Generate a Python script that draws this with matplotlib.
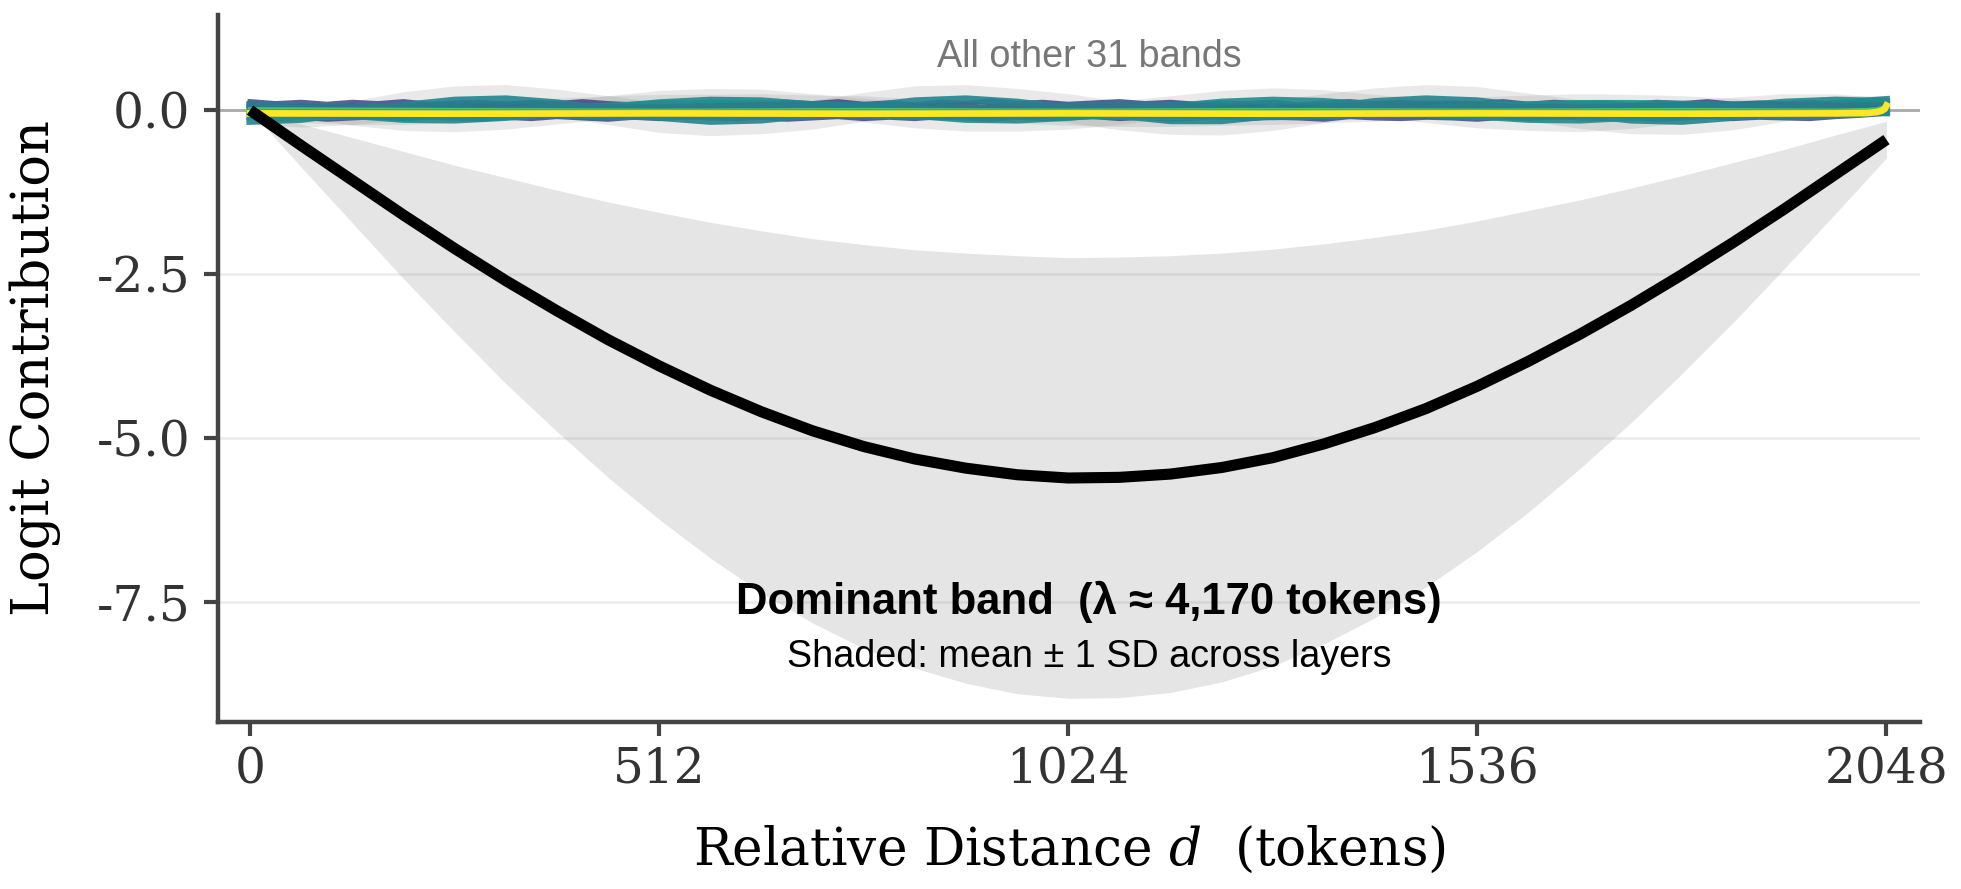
import numpy as np
import matplotlib
matplotlib.use("Agg")
import matplotlib.pyplot as plt

plt.rcParams['mathtext.fontset'] = 'dejavuserif'
plt.rcParams['axes.unicode_minus'] = False

# ---- data ----
d64 = np.arange(0, 2049, 64)     # 33 points
d32 = np.arange(0, 2049, 32)     # 65 points

# dominant band: mean and SD across layers
dom_mean = [0.0, -0.54, -1.07, -1.60, -2.11, -2.60, -3.06, -3.50, -3.90, -4.27, -4.60,
            -4.89, -5.13, -5.32, -5.46, -5.56, -5.61, -5.60, -5.55, -5.45, -5.30, -5.09,
            -4.84, -4.55, -4.21, -3.83, -3.42, -2.98, -2.51, -2.02, -1.51, -0.98, -0.45]
dom_sd = [0.0, 0.33, 0.65, 0.97, 1.27, 1.57, 1.84, 2.10, 2.34, 2.56, 2.76,
          2.93, 3.08, 3.19, 3.28, 3.34, 3.36, 3.36, 3.33, 3.27, 3.18, 3.05,
          2.90, 2.72, 2.52, 2.30, 2.05, 1.79, 1.51, 1.22, 0.91, 0.60, 0.28]

# other bands, slow (teal) ones, 64-token steps
teal_a = [-0.17, -0.14, -0.04, 0.07, 0.15, 0.17, 0.11, 0.00, -0.11, -0.17, -0.15,
          -0.07, 0.05, 0.14, 0.17, 0.12, 0.03, -0.08, -0.16, -0.16, -0.08, 0.03,
          0.13, 0.17, 0.14, 0.05, -0.06, -0.15, -0.17, -0.11, -0.01, 0.10, 0.16]
teal_b = [0.08, 0.00, -0.08, -0.14, -0.15, -0.11, -0.04, 0.04, 0.11, 0.15, 0.14,
          0.08, 0.00, -0.08, -0.14, -0.15, -0.11, -0.04, 0.05, 0.12, 0.15, 0.13,
          0.07, -0.01, -0.09, -0.14, -0.15, -0.11, -0.03, 0.05, 0.12, 0.15, 0.13]
teal_c = [-0.10, -0.10, -0.09, -0.07, -0.04, 0.00, 0.03, 0.06, 0.09, 0.10, 0.10,
          0.08, 0.06, 0.02, -0.01, -0.05, -0.08, -0.09, -0.10, -0.09, -0.07, -0.04,
          -0.01, 0.03, 0.06, 0.08, 0.10, 0.10, 0.09, 0.06, 0.03, -0.01, -0.04]
teal_d = [0.08, 0.06, 0.04, 0.05, 0.07, 0.08, 0.06, 0.04, 0.03, 0.05, 0.07,
          0.08, 0.07, 0.05, 0.03, 0.04, 0.06, 0.08, 0.07, 0.05, 0.04, 0.05,
          0.07, 0.08, 0.06, 0.04, 0.03, 0.05, 0.07, 0.08, 0.07, 0.06, 0.07]
teal_e = [-0.02, -0.06, -0.09, -0.10, -0.08, -0.06, -0.07, -0.09, -0.10, -0.09, -0.07,
          -0.06, -0.07, -0.09, -0.10, -0.09, -0.07, -0.06, -0.07, -0.09, -0.10, -0.08,
          -0.06, -0.07, -0.09, -0.10, -0.09, -0.07, -0.06, -0.07, -0.08, -0.07, -0.03]

sd_a = [0.04, 0.12, 0.18, 0.21, 0.22, 0.22, 0.21, 0.22, 0.23, 0.22, 0.21,
        0.22, 0.22, 0.23, 0.22, 0.21, 0.22, 0.22, 0.21, 0.22, 0.23, 0.22,
        0.21, 0.22, 0.22, 0.21, 0.22, 0.21, 0.20, 0.19, 0.16, 0.12, 0.06]
sd_b = [0.03, 0.10, 0.15, 0.17, 0.18, 0.18, 0.17, 0.18, 0.19, 0.18, 0.18,
        0.17, 0.18, 0.19, 0.18, 0.17, 0.18, 0.18, 0.17, 0.18, 0.19, 0.18,
        0.17, 0.18, 0.18, 0.17, 0.18, 0.17, 0.16, 0.15, 0.13, 0.10, 0.05]
sd_c = [0.03, 0.09, 0.13, 0.15, 0.15, 0.14, 0.15, 0.16, 0.15, 0.14, 0.15,
        0.15, 0.16, 0.15, 0.14, 0.15, 0.15, 0.16, 0.15, 0.14, 0.15, 0.15,
        0.16, 0.15, 0.14, 0.15, 0.15, 0.14, 0.13, 0.12, 0.10, 0.07, 0.04]

# other bands, fast (purple) ones, 32-token steps
purple_up = [0.13, 0.10, 0.12, 0.09, 0.12, 0.10, 0.13, 0.09, 0.11, 0.12, 0.09, 0.12, 0.10,
             0.13, 0.10, 0.08, 0.11, 0.09, 0.12, 0.10, 0.09, 0.12, 0.10, 0.13, 0.09, 0.11,
             0.08, 0.12, 0.10, 0.14, 0.10, 0.12, 0.09, 0.11, 0.13, 0.10, 0.12, 0.09, 0.11,
             0.10, 0.12, 0.08, 0.11, 0.13, 0.10, 0.12, 0.09, 0.11, 0.10, 0.13, 0.09, 0.12,
             0.10, 0.11, 0.08, 0.12, 0.10, 0.13, 0.09, 0.11, 0.10, 0.12, 0.09, 0.11, 0.08]
purple_lo = [-0.10, -0.13, -0.11, -0.14, -0.12, -0.10, -0.13, -0.11, -0.12, -0.14, -0.11, -0.13, -0.10,
             -0.12, -0.14, -0.11, -0.13, -0.10, -0.12, -0.13, -0.11, -0.14, -0.12, -0.10, -0.13, -0.11,
             -0.13, -0.10, -0.12, -0.14, -0.11, -0.13, -0.12, -0.10, -0.13, -0.11, -0.14, -0.12, -0.10,
             -0.13, -0.11, -0.12, -0.14, -0.10, -0.12, -0.13, -0.11, -0.12, -0.14, -0.11, -0.13, -0.10,
             -0.12, -0.13, -0.11, -0.14, -0.12, -0.10, -0.13, -0.11, -0.12, -0.13, -0.10, -0.08, -0.05]
purple_mid = [0.06, 0.03, 0.07, 0.04, 0.06, 0.02, 0.05, 0.07, 0.03, 0.06, 0.04, 0.07, 0.03,
              0.05, 0.06, 0.02, 0.05, 0.07, 0.04, 0.06, 0.03, 0.05, 0.08, 0.04, 0.06, 0.03,
              0.07, 0.05, 0.02, 0.06, 0.04, 0.07, 0.03, 0.05, 0.06, 0.02, 0.05, 0.07, 0.04,
              0.06, 0.03, 0.05, 0.07, 0.04, 0.06, 0.02, 0.05, 0.07, 0.03, 0.06, 0.04, 0.07,
              0.03, 0.05, 0.06, 0.02, 0.05, 0.07, 0.04, 0.06, 0.03, 0.05, 0.07, 0.04, 0.06]
purple_low2 = [-0.06, -0.08, -0.05, -0.09, -0.07, -0.05, -0.08, -0.06, -0.09, -0.07, -0.05, -0.08, -0.06,
               -0.08, -0.05, -0.07, -0.09, -0.06, -0.08, -0.05, -0.07, -0.09, -0.06, -0.08, -0.05, -0.07,
               -0.09, -0.06, -0.08, -0.05, -0.07, -0.09, -0.06, -0.08, -0.05, -0.07, -0.09, -0.06, -0.08,
               -0.05, -0.07, -0.09, -0.06, -0.08, -0.05, -0.07, -0.09, -0.06, -0.08, -0.05, -0.07, -0.09,
               -0.06, -0.08, -0.05, -0.07, -0.09, -0.06, -0.08, -0.05, -0.07, -0.06, -0.04, -0.03, -0.01]

# slowest bands (green / yellow), nearly flat with a hook at the end
d_flat = [0, 256, 512, 768, 1024, 1280, 1536, 1792, 1984, 2024, 2036, 2042, 2046, 2048]
green_a = [0.01, 0.00, -0.01, 0.00, -0.01, 0.00, -0.01, 0.00, -0.01, 0.00, 0.01, 0.03, 0.05, 0.08]
green_b = [-0.02, -0.02, -0.03, -0.02, -0.03, -0.02, -0.03, -0.02, -0.03, -0.03, -0.02, 0.00, 0.03, 0.07]
yellow = [-0.05, -0.055, -0.05, -0.055, -0.05, -0.055, -0.05, -0.055, -0.05, -0.045, -0.03, -0.01, 0.02, 0.07]

xticks = [0, 512, 1024, 1536, 2048]
yticks = [0.0, -2.5, -5.0, -7.5]
ytick_labels = ['0.0', '-2.5', '-5.0', '-7.5']

# ---- plot ----
fig = plt.figure(figsize=(9.805, 4.445), dpi=200)
ax = fig.add_axes([0.1112, 0.1879, 0.8679, 0.7952])

cmap = plt.get_cmap('viridis')

ax.axhline(0, color='#aaaaaa', lw=1.0, zorder=1)

# shaded SD ribbons
ax.fill_between(d64, np.array(dom_mean) - np.array(dom_sd), np.array(dom_mean) + np.array(dom_sd),
                color='gray', alpha=0.2, lw=0, zorder=2)
for m, s in [(teal_a, sd_a), (teal_b, sd_b), (teal_c, sd_c)]:
    m = np.array(m); s = np.array(s)
    ax.fill_between(d64, m - s, m + s, color='gray', alpha=0.17, lw=0, zorder=2)

# fast bands
for y, c in [(purple_up, 0.2), (purple_lo, 0.22), (purple_mid, 0.12), (purple_low2, 0.15)]:
    ax.plot(d32, y, color=cmap(c), lw=1.8, alpha=0.85, zorder=3, solid_joinstyle='miter')

# slow bands
for y, c in [(teal_a, 0.45), (teal_b, 0.48), (teal_c, 0.5), (teal_d, 0.42), (teal_e, 0.46)]:
    ax.plot(d64, y, color=cmap(c), lw=2.6, alpha=0.9, zorder=4)

ax.plot(d_flat, green_a, color=cmap(0.72), lw=1.6, zorder=5)
ax.plot(d_flat, green_b, color=cmap(0.6), lw=1.6, zorder=5)
ax.plot(d_flat, yellow, color=cmap(1.0), lw=2.4, zorder=6)

# dominant band
ax.plot(d64, dom_mean, color='black', lw=4.0, zorder=7, solid_capstyle='butt')

# annotations
sans = ['Liberation Sans', 'DejaVu Sans']
ax.text(1050, 0.81, 'All other 31 bands', ha='center', va='center', color='#777777',
        fontsize=13.6, family=sans)
ax.text(1050, -7.5, 'Dominant band  (λ ≈ 4,170 tokens)', ha='center', va='center',
        fontsize=15.7, fontweight='bold', family=sans)
ax.text(1050, -8.34, 'Shaded: mean ± 1 SD across layers', ha='center', va='center',
        fontsize=13.6, family=sans)

# axes styling
ax.set_xlim(-40, 2090)
ax.set_ylim(-9.33, 1.45)
ax.set_xticks(xticks)
ax.set_xticklabels([str(t) for t in xticks], family='DejaVu Serif', fontsize=17.5)
ax.set_yticks(yticks)
ax.set_yticklabels(ytick_labels, family='DejaVu Serif', fontsize=17.5)
ax.tick_params(colors='#444444', labelcolor='#333333', length=5, width=1.5)
ax.tick_params(axis='y', pad=5)
ax.tick_params(axis='x', pad=4)

for s in ['top', 'right']:
    ax.spines[s].set_visible(False)
for s in ['left', 'bottom']:
    ax.spines[s].set_color('#444444')
    ax.spines[s].set_linewidth(1.6)

ax.yaxis.grid(True, color='#ebebeb', lw=0.9, zorder=0)
ax.set_axisbelow(True)

ax.set_xlabel('Relative Distance $d$  (tokens)', family='DejaVu Serif', fontsize=18.6, va='center')
ax.set_ylabel('Logit Contribution', family='DejaVu Serif', fontsize=19, va='center')
ax.xaxis.set_label_coords(0.5, -0.181)
ax.yaxis.set_label_coords(-0.1076, 0.5)

fig.savefig('out.png', dpi=200)
